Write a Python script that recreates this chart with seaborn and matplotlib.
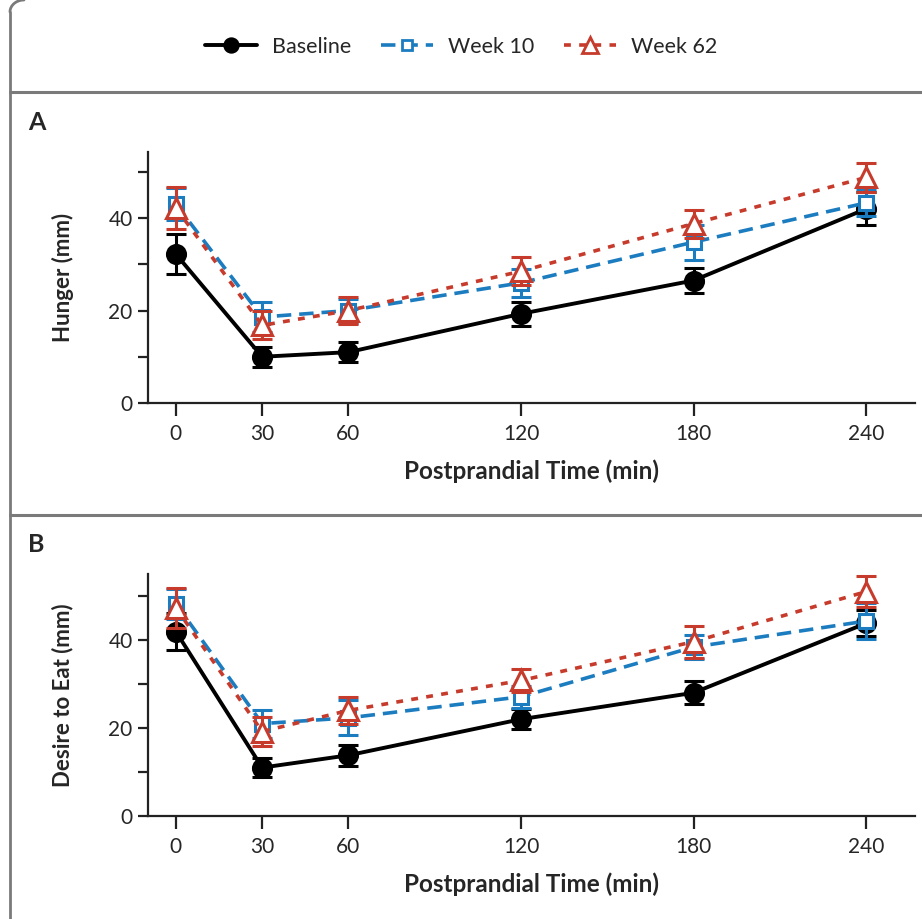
import numpy as np
import pandas as pd
import matplotlib
matplotlib.use("Agg")
import matplotlib.pyplot as plt
import seaborn as sns
from matplotlib.lines import Line2D

# ---- data ----
times = [0, 30, 60, 120, 180, 240]
groups = ["Baseline", "Week 10", "Week 62"]

hunger_baseline = [32.2, 10.0, 11.0, 19.3, 26.5, 42.0]
hunger_week10 = [43.0, 18.6, 20.0, 26.0, 34.8, 43.3]
hunger_week62 = [42.2, 16.8, 20.0, 28.5, 38.8, 48.8]
hunger_err_baseline = [4.4, 2.2, 2.1, 2.6, 2.6, 3.6]
hunger_err_week10 = [3.5, 3.2, 2.6, 3.0, 3.8, 2.8]
hunger_err_week62 = [4.5, 3.0, 3.0, 3.0, 3.0, 3.2]

desire_baseline = [41.9, 11.0, 13.8, 22.0, 28.0, 43.8]
desire_week10 = [48.2, 21.0, 22.3, 27.1, 38.4, 44.3]
desire_week62 = [47.3, 19.2, 24.0, 30.8, 39.6, 51.0]
desire_err_baseline = [4.2, 2.1, 2.4, 2.3, 2.6, 3.0]
desire_err_week10 = [3.4, 3.2, 4.0, 2.5, 2.8, 4.0]
desire_err_week62 = [4.5, 3.3, 3.0, 2.7, 3.6, 3.6]

x_ticks = [0, 30, 60, 120, 180, 240]
y_ticklabels = ["0", "", "20", "", "40", ""]

def make_df(b, w10, w62, eb, e10, e62):
    rows = []
    for g, vals, errs in zip(groups, [b, w10, w62], [eb, e10, e62]):
        for t, v, e in zip(times, vals, errs):
            rows.append({"time": t, "value": v, "err": e, "group": g})
    return pd.DataFrame(rows)

df_a = make_df(hunger_baseline, hunger_week10, hunger_week62,
               hunger_err_baseline, hunger_err_week10, hunger_err_week62)
df_b = make_df(desire_baseline, desire_week10, desire_week62,
               desire_err_baseline, desire_err_week10, desire_err_week62)

# ---- style ----
sns.set_theme(style="ticks")
plt.rcParams["font.family"] = ["Lato", "DejaVu Sans"]

BLUE = "#1c7cc0"
RED = "#c63b2b"
colors = {"Baseline": "black", "Week 10": BLUE, "Week 62": RED}
styles = {
    "Baseline": dict(marker="o", ms=13, mfc="black", mec="black", ls="-", lw=2.8, dashes=None),
    "Week 10": dict(marker="s", ms=9.5, mfc="white", mec=BLUE, ls="--", lw=2.6, dashes=(4, 2.2)),
    "Week 62": dict(marker="^", ms=15, mfc="white", mec=RED, ls=":", lw=2.6, dashes=(1.9, 2.3)),
}

fig = plt.figure(figsize=(9.22, 9.19), dpi=100)
ax_a = fig.add_axes([148/922, 1-403/919, (915-148)/922, (403-152)/919])
ax_b = fig.add_axes([148/922, 1-816/919, (915-148)/922, (816-574)/919])

def draw(ax, df, ylabel, ytop):
    for z, g in enumerate(groups):
        sub = df[df["group"] == g]
        st = styles[g]
        sns.lineplot(data=sub, x="time", y="value", ax=ax, color=colors[g],
                     linewidth=st["lw"], linestyle=st["ls"], legend=False,
                     zorder=3 + 2*z, errorbar=None)
        line = ax.lines[-1]
        if st["dashes"] is not None:
            line.set_dashes(st["dashes"])
        ax.errorbar(sub["time"], sub["value"], yerr=sub["err"], fmt="none",
                    ecolor=colors[g], elinewidth=2.2, capsize=7, capthick=2.2,
                    zorder=3 + 2*z + 1)
        ax.plot(sub["time"], sub["value"], ls="none", marker=st["marker"],
                ms=st["ms"], mfc=st["mfc"], mec=st["mec"], mew=2.2,
                zorder=3 + 2*z + 1.5)
    ax.set_xlim(-9.7, 257)
    ax.set_ylim(0, ytop)
    ax.set_xticks(x_ticks)
    ax.set_xticklabels([str(t) for t in x_ticks], fontsize=15)
    ax.set_yticks([0, 10, 20, 30, 40, 50])
    ax.set_yticklabels(y_ticklabels, fontsize=15)
    ax.tick_params(axis="x", length=9, width=1.6, color="#222222", pad=6)
    ax.tick_params(axis="y", length=7, width=1.6, color="#222222", pad=4)
    for s in ["top", "right"]:
        ax.spines[s].set_visible(False)
    for s in ["left", "bottom"]:
        ax.spines[s].set_linewidth(1.6)
        ax.spines[s].set_color("#222222")
    ax.set_xlabel("Postprandial Time (min)", fontsize=17.5, fontweight="bold", labelpad=11)
    ax.set_ylabel(ylabel, fontsize=16, fontweight="bold", labelpad=25)
    ax.patch.set_alpha(0)

draw(ax_a, df_a, "Hunger (mm)", 54.3)
draw(ax_b, df_b, "Desire to Eat (mm)", 55)

# legend
handles = []
for g in groups:
    st = styles[g]
    h = Line2D([], [], color=colors[g], lw=st["lw"], ls=st["ls"], marker=st["marker"],
               ms=st["ms"]*0.75, mfc=st["mfc"], mec=st["mec"], mew=2)
    if st["dashes"] is not None:
        h.set_dashes(st["dashes"])
    handles.append(h)
fig.legend(handles, groups, loc="center", bbox_to_anchor=(0.5, 1-47/919), ncol=3,
           frameon=False, fontsize=15.5, handlelength=2.4, columnspacing=1.4,
           handletextpad=0.7)

# panel frame lines
gray = "#7a7a7a"
fig.add_artist(Line2D([10/922, 10/922], [0, 1-12/919], color=gray, lw=2, transform=fig.transFigure))
fig.add_artist(Line2D([10/922, 1], [1-92/919, 1-92/919], color=gray, lw=2.2, transform=fig.transFigure))
fig.add_artist(Line2D([10/922, 1], [1-515/919, 1-515/919], color=gray, lw=2.2, transform=fig.transFigure))
theta = np.linspace(np.pi/2, np.pi, 30)
fig.add_artist(Line2D(10/922 + (14/922)*(1+np.cos(theta)), 1-12/919 + (12/919)*np.sin(theta),
                      color=gray, lw=2, transform=fig.transFigure))

fig.text(28/922, 1-122/919, "A", fontsize=18, fontweight="bold", va="center", ha="left")
fig.text(28/922, 1-545/919, "B", fontsize=18, fontweight="bold", va="center", ha="left")

fig.savefig("out.png", dpi=100, facecolor="white")
